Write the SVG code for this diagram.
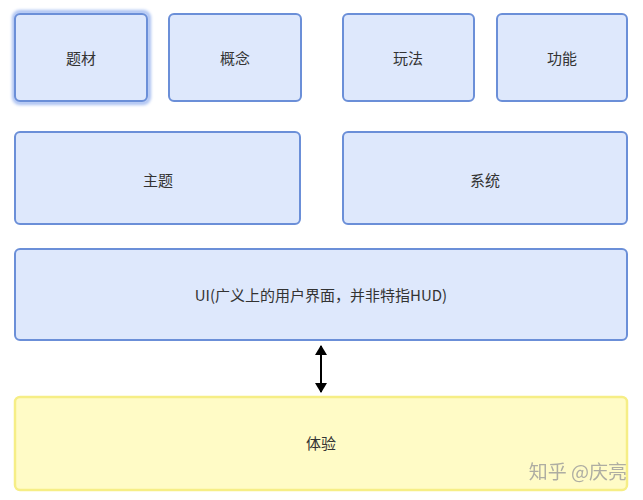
<svg xmlns="http://www.w3.org/2000/svg" width="643" height="500" viewBox="0 0 643 500">
<style>
.b{fill:#dee8fc;stroke:#6b8fd8;stroke-width:2}
.y{fill:#fffbc6;stroke:#f6ee86;stroke-width:2.5}
.t{font-family:"Noto Sans CJK SC","Noto Sans",sans-serif;font-size:15px;fill:#333;text-anchor:middle;dominant-baseline:central}
.w{font-family:"Noto Sans CJK SC","Noto Sans",sans-serif;font-size:19px;fill:#9a9a9a;opacity:0.8;text-anchor:end;dominant-baseline:central}
</style>
<defs>
<marker id="ah" viewBox="0 0 10 12" refX="9" refY="6" markerWidth="5" markerHeight="6" orient="auto-start-reverse">
<path d="M0,0 L10,6 L0,12 z" fill="#000"/>
</marker>
<filter id="glow" x="-20%" y="-20%" width="140%" height="140%">
<feGaussianBlur stdDeviation="1.5"/>
</filter>
</defs>
<rect width="643" height="500" fill="#fff"/>
<g id="n1"><rect x="14" y="12" width="135" height="91" rx="6" fill="none" stroke="#a9c0f2" stroke-width="4" filter="url(#glow)"/><rect class="b" x="15" y="14" width="132" height="87" rx="5"/><text class="t" x="81" y="57">题材</text></g>
<g id="n2"><rect class="b" x="169" y="14" width="132" height="87" rx="5"/><text class="t" x="235" y="57">概念</text></g>
<g id="n3"><rect class="b" x="343" y="14" width="131" height="87" rx="5"/><text class="t" x="408" y="57">玩法</text></g>
<g id="n4"><rect class="b" x="497" y="14" width="130" height="87" rx="5"/><text class="t" x="562" y="57">功能</text></g>
<g id="n5"><rect class="b" x="15" y="132" width="285" height="92" rx="5"/><text class="t" x="158" y="179">主题</text></g>
<g id="n6"><rect class="b" x="343" y="132" width="284" height="92" rx="5"/><text class="t" x="485" y="179">系统</text></g>
<g id="n7"><rect class="b" x="15" y="249" width="612" height="91" rx="5"/><text class="t" x="321" y="294">UI(广义上的用户界面，并非特指HUD)</text></g>
<g id="n8"><rect class="y" x="15" y="397" width="612" height="93" rx="5"/><text class="t" x="321" y="442">体验</text></g>
<g id="edges"><line x1="321" y1="346" x2="321" y2="392" stroke="#000" stroke-width="2" marker-start="url(#ah)" marker-end="url(#ah)"/></g>
<text class="w" x="627" y="470">知乎 @庆亮</text>
</svg>
